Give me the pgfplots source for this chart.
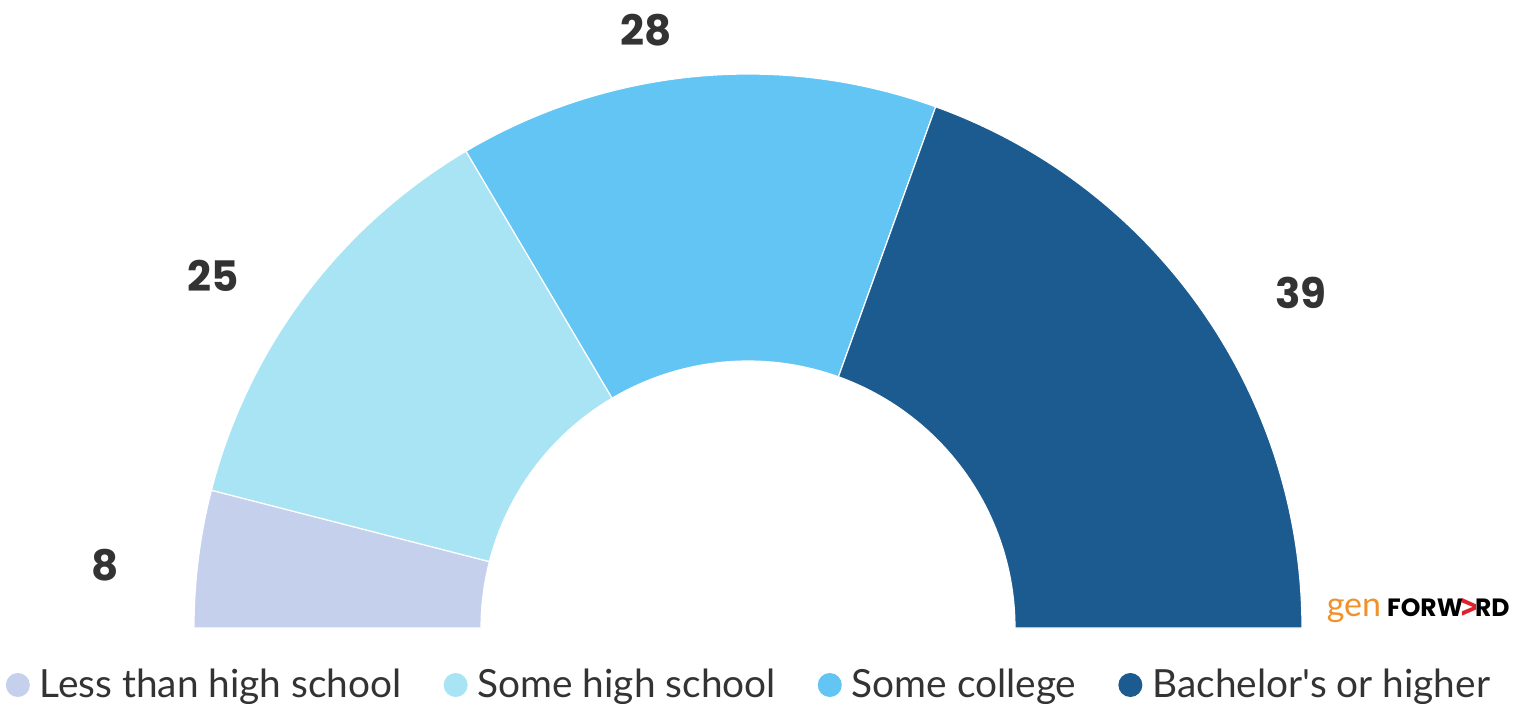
\documentclass[border=0pt]{standalone}
\usepackage{graphicx}
\usepackage{pgfplots}
\pgfplotsset{compat=1.18}
\usepackage{pgfplotstable}
\usepackage{fontspec}
\setmainfont{Lato}[Ligatures=TeXOff]
\newfontfamily\numfont{Poppins}
\definecolor{c1}{HTML}{C5D0EC}
\definecolor{c2}{HTML}{A8E4F4}
\definecolor{c3}{HTML}{62C5F4}
\definecolor{c4}{HTML}{1C5B8F}
\definecolor{txt}{HTML}{333333}
\definecolor{gfo}{HTML}{F0922B}
\definecolor{gfr}{HTML}{E0202A}

\pgfplotstableread{
value
8
25
28
39
}\pietable
\pgfplotstablegetelem{0}{value}\of\pietable\let\vA\pgfplotsretval
\pgfplotstablegetelem{1}{value}\of\pietable\let\vB\pgfplotsretval
\pgfplotstablegetelem{2}{value}\of\pietable\let\vC\pgfplotsretval
\pgfplotstablegetelem{3}{value}\of\pietable\let\vD\pgfplotsretval
\pgfmathsetmacro\aA{180}
\pgfmathsetmacro\aB{\aA-1.8*\vA}
\pgfmathsetmacro\aC{\aB-1.8*\vB}
\pgfmathsetmacro\aD{\aC-1.8*\vC}
\pgfmathsetmacro\aE{\aD-1.8*\vD}
\def\cx{748}\def\cy{75}\def\ro{554}\def\ri{267}
\def\roPt{277pt}\def\riPt{133.5pt}
\newcommand\sector[3]{%
  \fill[#1, draw=white, line width=0.6pt]
    (axis cs:{\cx+\ro*cos(#2)},{\cy+\ro*sin(#2)})
    arc[start angle=#2, end angle=#3, radius=\roPt]
    -- (axis cs:{\cx+\ri*cos(#3)},{\cy+\ri*sin(#3)})
    arc[start angle=#3, end angle=#2, radius=\riPt] -- cycle;}
\tikzset{numlbl/.style={font=\numfont\bfseries\fontsize{21}{25}\selectfont, text=txt}}
\begin{document}%
\begin{tikzpicture}
\begin{axis}[
  hide axis, x=0.5pt, y=0.5pt,
  xmin=0, xmax=1528, ymin=0, ymax=703,
  clip=false,
  legend columns=4,
  legend style={at={(axis cs:749,18)}, anchor=center, draw=none, fill=none,
    font=\fontsize{19.4}{22}\selectfont, text=txt,
    /tikz/every even column/.append style={column sep=20pt},
    /tikz/every odd column/.append style={column sep=4pt},
    nodes={inner sep=1pt}},
  legend cell align=left,
]
\coordinate (BL) at (axis cs:0,0);
\coordinate (TR) at (axis cs:1528,703);
\sector{c1}{\aA}{\aB}
\sector{c2}{\aB}{\aC}
\sector{c3}{\aC}{\aD}
\sector{c4}{\aD}{\aE}
\addlegendimage{fill=c1, draw=none, legend image code/.code={\fill (0pt,0pt) circle (6pt);}}
\addlegendentry{Less than high school}
\addlegendimage{fill=c2, draw=none, legend image code/.code={\fill (0pt,0pt) circle (6pt);}}
\addlegendentry{Some high school}
\addlegendimage{fill=c3, draw=none, legend image code/.code={\fill (0pt,0pt) circle (6pt);}}
\addlegendentry{Some college}
\addlegendimage{fill=c4, draw=none, legend image code/.code={\fill (0pt,0pt) circle (6pt);}}
\addlegendentry{Bachelor's or higher}
\node[numlbl] at (axis cs:105,138) {\vA};
\node[numlbl] at (axis cs:213,427) {\vB};
\node[numlbl] at (axis cs:646,673) {\vC};
\node[numlbl] at (axis cs:1301,410) {\vD};
\node[anchor=east, inner sep=0pt] at (axis cs:1510,93)
  {{\color{gfo}\fontsize{17}{17}\selectfont gen}\hspace{3pt}{\numfont\bfseries\fontsize{12.5}{12.5}\selectfont FORW\hspace{-0.5pt}{\color{gfr}\raisebox{0pt}{\rotatebox{90}{\scalebox{1}[0.8]{V}}}}\hspace{-0.5pt}RD}};
\end{axis}
\pgfresetboundingbox
\path (BL) rectangle (TR);
\end{tikzpicture}%
\end{document}
